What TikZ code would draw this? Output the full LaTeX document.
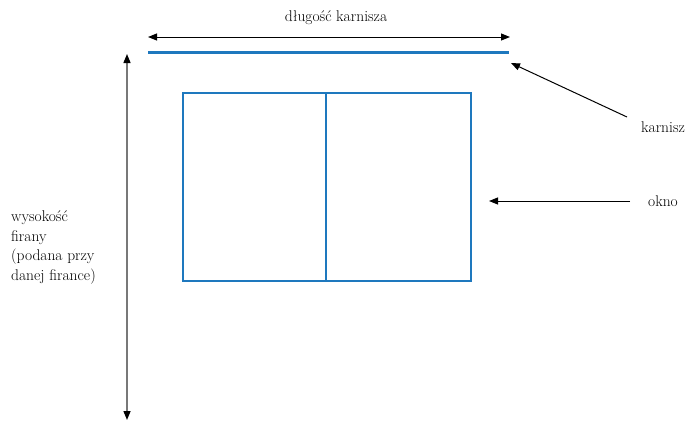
\documentclass[tikz,border=0pt]{standalone}
\usepackage{fontspec}
\usetikzlibrary{arrows.meta}
\definecolor{winblue}{RGB}{30,120,190}
\definecolor{arrgray}{RGB}{120,120,120}
\begin{document}
\begin{tikzpicture}[x=1pt,y=-1pt,
  arr/.style={-{Triangle[length=9pt,width=7pt]},line width=1pt,black},
  dblarr/.style={{Triangle[length=9pt,width=7pt]}-{Triangle[length=9pt,width=7pt]},line width=1pt},
  blueline/.style={winblue,line width=2pt},
  lbl/.style={font=\fontsize{15.5}{19.5}\selectfont,inner sep=0pt}]
\useasboundingbox (0,0) rectangle (690,421);
% top dimension
\coordinate (tl) at (148,37);
\coordinate (tr) at (510,37);
\draw[dblarr] (tl) -- (tr);
\node[lbl] (dlug) at (336,18) {długość karnisza};
% rail
\coordinate (rl) at (148,52);
\coordinate (rr) at (509,52);
\draw[blueline,line width=3pt] (rl) -- (rr);
% vertical dimension
\coordinate (vt) at (127,54);
\coordinate (vb) at (127,420);
\draw[arrgray,line width=1.4pt,{Triangle[length=9pt,width=7pt,fill=black,color=black]}-{Triangle[length=9pt,width=7pt,fill=black,color=black]}] (vt) -- (vb);
\node[lbl,align=left,anchor=north west] (wys) at (11,211) {wysokość\\firany\\(podana przy\\danej firance)};
% window
\node[draw=winblue,line width=2pt,minimum width=288pt,minimum height=188pt,inner sep=0pt,anchor=north west] (win) at (182,92) {};
\coordinate (mt) at (326,92);
\coordinate (mb) at (326,280);
\draw[blueline] (mt) -- (mb);
% labels with arrows
\node[lbl] (karn) at (663,127) {karnisz};
\coordinate (ks) at (627,117);
\coordinate (ke) at (511,63);
\draw[arr] (ks) -- (ke);
\node[lbl] (okno) at (663,201) {okno};
\coordinate (os) at (630,201);
\coordinate (oe) at (489,201);
\draw[arr] (os) -- (oe);
\end{tikzpicture}
\end{document}
